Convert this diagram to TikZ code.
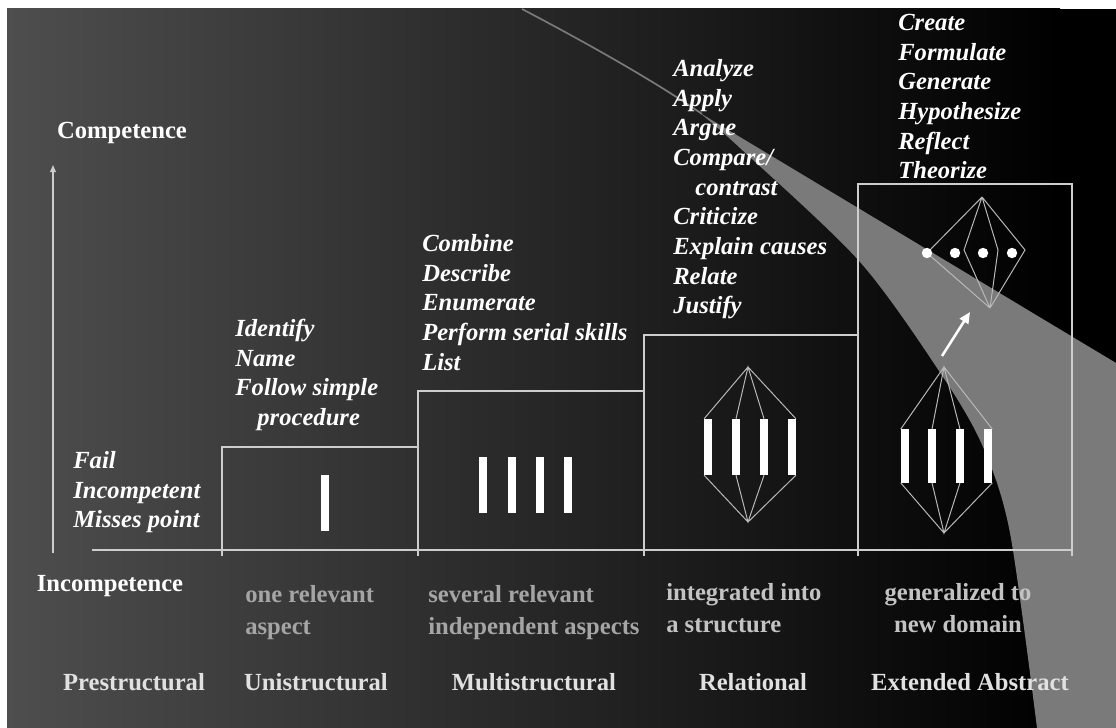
\documentclass[tikz,border=0pt]{standalone}
\usepackage{fontspec}
\setmainfont{Liberation Serif}
\usetikzlibrary{arrows.meta,positioning,calc}
\definecolor{bgleft}{RGB}{78,78,78}
\definecolor{swoosh}{RGB}{122,122,122}
\definecolor{rule}{RGB}{205,205,205}
\definecolor{web}{RGB}{185,185,185}
\definecolor{desctext}{RGB}{165,165,165}
\definecolor{desclight}{RGB}{195,195,195}
\definecolor{leveltext}{RGB}{225,225,225}
\tikzset{
  verbs/.style={text=white,font=\fontsize{17.5}{21.1}\selectfont\bfseries\itshape,align=left,anchor=north west,inner sep=0pt},
  desc/.style={text=desctext,font=\fontsize{17.5}{22.5}\selectfont\bfseries,align=left,anchor=north west,inner sep=0pt},
  level/.style={text=leveltext,font=\fontsize{17.5}{21}\selectfont\bfseries,inner sep=0pt},
  stepline/.style={draw=rule,line width=1.1pt},
  webline/.style={draw=web,line width=0.7pt},
  bar/.style={fill=white,inner sep=0pt,minimum width=0.2cm,minimum height=1.4cm},
  dot/.style={circle,fill=white,inner sep=0pt,minimum size=0.26cm}
}
\begin{document}
\begin{tikzpicture}[x=0.025cm,y=-0.025cm]
  \useasboundingbox (0,0) rectangle (1116,728);
  \fill[white] (0,0) rectangle (1116,728); % white strip at the top and left edge
  \shade[left color=bgleft,right color=black] (7,9) rectangle (1060,728); % dark background, fading to black
  \fill[black] (1060,9) rectangle (1116,728);
  \fill[swoosh] (700,113) -- (1116,363) -- (1116,728)
    -- plot[smooth] coordinates {(1037,728) (1010,533) (983,447) (943,377) (860,262) (740,148) (700,113)} -- cycle; % grey sweep on the right
  \draw[swoosh,line width=1.2pt] (522,9) .. controls (600,50) and (660,85) .. (702,114); % thin tail of the sweep

  \draw[stepline,-{Triangle[length=5pt,width=4pt]}] (53,553) -- (53,165); % competence axis
  \draw[stepline] (92,550) -- (1072,550); % base line
  \draw[stepline] (222,556) -- (222,447) -- (418,447); % unistructural step
  \draw[stepline] (418,556) -- (418,391) -- (644,391); % multistructural step
  \draw[stepline] (644,556) -- (644,335) -- (858,335); % relational step
  \draw[stepline] (858,556) -- (858,184) -- (1072,184) -- (1072,556); % extended abstract box

  \node[bar] (u1) at (325,503) {}; % one aspect
  \foreach \i/\x in {1/483,2/512,3/540,4/568}
    \node[bar] (m\i) at (\x,485) {}; % several aspects

  \foreach \i/\x in {1/708,2/736,3/764,4/792}
    \node[bar,minimum width=0.18cm] (r\i) at (\x,447) {}; % aspects tied into a structure
  \coordinate (rtop) at (748,367);
  \coordinate (rbot) at (748,522);
  \draw[webline] (r1.north west) -- (rtop) -- (r4.north east) (r2.north) -- (rtop) -- (r3.north);
  \draw[webline] (r1.south west) -- (rbot) -- (r4.south east) (r2.south) -- (rbot) -- (r3.south);

  \foreach \i/\x in {1/905,2/932,3/960,4/988}
    \node[bar,minimum height=1.33cm] (e\i) at (\x,456) {}; % structure in the extended box
  \coordinate (etop) at (944,367);
  \coordinate (ebot) at (944,533);
  \draw[webline] (e1.north west) -- (etop) -- (e4.north east) (e2.north) -- (etop) -- (e3.north);
  \draw[webline] (e1.south west) -- (ebot) -- (e4.south east) (e2.south) -- (ebot) -- (e3.south);

  \coordinate (arrtail) at (942,356);
  \coordinate (arrtip) at (970,312);
  \draw[white,line width=1.8pt,-{Triangle[length=8pt,width=7pt]}] (arrtail) -- (arrtip); % step to the new domain

  \foreach \i/\x in {1/927,2/955,3/983,4/1012}
    \node[dot] (d\i) at (\x,253) {}; % points of the new domain
  \coordinate (dtop) at (982,197);
  \coordinate (dbot) at (990,308);
  \coordinate (dl) at (964,250);
  \coordinate (dr) at (998,250);
  \coordinate (dR) at (1025,250);
  \draw[webline] (dtop) -- (d1) -- (dbot) (dtop) -- (dl) -- (dbot) (dtop) -- (dr) -- (dbot) (dtop) -- (dR) -- (dbot);

  \node[verbs] (preverbs) at (73,451) {Fail\\Incompetent\\Misses point};
  \node[verbs] (univerbs) at (235,319) {Identify\\Name\\Follow simple\\\hspace*{0.9em}procedure};
  \node[verbs] (multiverbs) at (422,234) {Combine\\Describe\\Enumerate\\Perform serial skills\\List};
  \node[verbs] (relverbs) at (673,59) {Analyze\\Apply\\Argue\\Compare/\\\hspace*{0.9em}contrast\\Criticize\\Explain causes\\Relate\\Justify};
  \node[verbs] (extverbs) at (898,14) {Create\\Formulate\\Generate\\Hypothesize\\Reflect\\Theorize};

  \node[level,text=white] (comp) at (122,133) {Competence};
  \node[level,text=white] (incomp) at (110,586) {Incompetence};
  \node[desc] (unidesc) at (245,585) {one relevant\\aspect};
  \node[desc] (multidesc) at (428,585) {several relevant\\independent aspects};
  \node[desc,text=desclight] (reldesc) at (666,583) {integrated into\\a structure};
  \node[desc,text=desclight,align=center,anchor=north] (extdesc) at (958,583) {generalized to\\new domain};

  \node[level] (pre) at (134,682) {Prestructural};
  \node[level] (uni) at (316,682) {Unistructural};
  \node[level] (multi) at (534,682) {Multistructural};
  \node[level] (rel) at (753,682) {Relational};
  \node[level] (ext) at (970,682) {Extended Abstract};
\end{tikzpicture}
\end{document}
